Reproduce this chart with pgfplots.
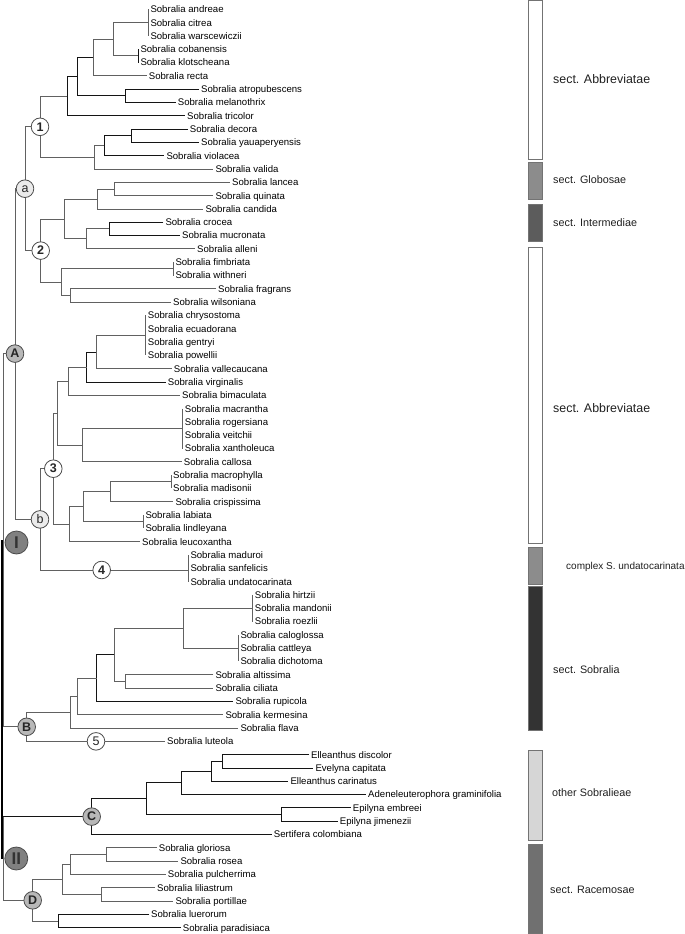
\documentclass[border=0pt]{standalone}
\usepackage{pgfplots}
\pgfplotsset{compat=1.18}
\usepackage{fontspec}
\setmainfont{Liberation Sans}
\newcommand{\lf}{\fontsize{9.6}{11}\selectfont}
\pgfplotsset{
 g/.style={draw=black!62, line width=0.9pt, mark=none},
 k/.style={draw=black!92, line width=0.9pt, mark=none},
 lbl/.style={draw=none, mark=none, nodes near coords, point meta=explicit symbolic,
   nodes near coords style={anchor=base west, font=\lf, inner xsep=2pt, inner ysep=0pt, yshift=-3.4pt, text=black}},
 sec/.style={draw=none, mark=none, nodes near coords, point meta=explicit symbolic,
   nodes near coords style={anchor=base west, font=#1, inner xsep=0pt, inner ysep=0pt, yshift=-3.8pt, text=black!88}},
 bar/.style={draw=black!55, line width=0.8pt, mark=none, fill=#1},
 circ/.style 2 args={only marks, mark=*, mark size=#1, mark options={draw=black!70, line width=0.8pt, fill=#2},
   nodes near coords, point meta=explicit symbolic},
}
\begin{document}
\begin{tikzpicture}
\begin{axis}[name=ax, width=685pt, height=934pt, scale only axis,
  xmin=0, xmax=685, ymin=0, ymax=934, y dir=reverse, hide axis, clip=false]
% ---------- clade 1 ----------
\addplot[g] coordinates {(148.3,9.3) (148.3,35.92)};
\addplot[k] coordinates {(138.3,49.23) (138.3,62.54)};
\addplot[g] coordinates {(148.3,22.6) (113.3,22.6) (113.3,55.9) (138.3,55.9)};
\addplot[g] coordinates {(113.3,39.3) (93.3,39.3) (93.3,75.85) (146.7,75.85)};
\addplot[k] coordinates {(199,89.16) (125,89.16) (125,102.47) (175.7,102.47)};
\addplot[k] coordinates {(93.3,57.6) (77.3,57.6) (77.3,95.8) (125,95.8)};
\addplot[k] coordinates {(77.3,76.7) (67.3,76.7) (67.3,115.78) (185,115.78)};
\addplot[k] coordinates {(187.7,129.09) (131,129.09) (131,142.4) (199,142.4)};
\addplot[k] coordinates {(131,135.7) (104.3,135.7) (104.3,155.71) (164.3,155.71)};
\addplot[g] coordinates {(104.3,145.7) (94.3,145.7) (94.3,169.02) (213.3,169.02)};
\addplot[g] coordinates {(67.3,96.2) (40,96.2) (40,157.4) (94.3,157.4)};
% ---------- clade 2 ----------
\addplot[g] coordinates {(230,182.33) (114.3,182.33) (114.3,195.64) (213.3,195.64)};
\addplot[g] coordinates {(114.3,189.0) (97.7,189.0) (97.7,208.95) (203.3,208.95)};
\addplot[k] coordinates {(163.3,222.26) (109.3,222.26) (109.3,235.57) (180,235.57)};
\addplot[g] coordinates {(109.3,228.9) (86,228.9) (86,248.88) (195,248.88)};
\addplot[g] coordinates {(97.7,199.0) (64,199.0) (64,238.9) (86,238.9)};
\addplot[g] coordinates {(173.3,262.19) (173.3,275.5)};
\addplot[g] coordinates {(216,288.81) (70,288.81) (70,302.12) (171,302.12)};
\addplot[g] coordinates {(173.3,268.8) (61,268.8) (61,295.5) (70,295.5)};
\addplot[g] coordinates {(64,219.0) (40.7,219.0) (40.7,282.2) (61,282.2)};
\addplot[g] coordinates {(40,126.8) (25,126.8) (25,250.6) (40.7,250.6)};
% ---------- node A ----------
\addplot[g] coordinates {(25,188.7) (15,188.7) (15,519.4) (40,519.4)};
% ---------- clade 3 ----------
\addplot[g] coordinates {(145.7,315.43) (145.7,355.36)};
\addplot[g] coordinates {(145.7,335.4) (96,335.4) (96,368.67) (171.7,368.67)};
\addplot[k] coordinates {(96,352.0) (86.7,352.0) (86.7,381.98) (165.7,381.98)};
\addplot[g] coordinates {(86.7,367.0) (68.3,367.0) (68.3,395.29) (180,395.29)};
\addplot[g] coordinates {(182.7,408.6) (182.7,448.53)};
\addplot[g] coordinates {(182.7,428.6) (82.3,428.6) (82.3,461.84) (181.7,461.84)};
\addplot[g] coordinates {(68.3,381.1) (57.7,381.1) (57.7,445.2) (82.3,445.2)};
\addplot[g] coordinates {(171,475.15) (171,488.46)};
\addplot[g] coordinates {(171,481.8) (110,481.8) (110,501.77) (173.3,501.77)};
\addplot[g] coordinates {(143.3,515.08) (143.3,528.39)};
\addplot[g] coordinates {(110,491.8) (83.3,491.8) (83.3,521.7) (143.3,521.7)};
\addplot[g] coordinates {(83.3,506.8) (69,506.8) (69,541.7) (140,541.7)};
\addplot[g] coordinates {(57.7,413.2) (53.3,413.2) (53.3,524.3) (69,524.3)};
\addplot[g] coordinates {(188.3,555.01) (188.3,581.63)};
\addplot[g] coordinates {(53.3,468.7) (40,468.7) (40,570) (188.3,570)};
% ---------- clade B ----------
\addplot[g] coordinates {(252.7,594.94) (252.7,621.56)};
\addplot[g] coordinates {(238.3,634.87) (238.3,661.49)};
\addplot[g] coordinates {(252.7,608.25) (183.3,608.25) (183.3,648.18) (238.3,648.18)};
\addplot[g] coordinates {(213.3,674.8) (125,674.8) (125,688.11) (213.3,688.11)};
\addplot[g] coordinates {(183.3,628.2) (114,628.2) (114,681.5) (125,681.5)};
\addplot[k] coordinates {(114,654.8) (96.7,654.8) (96.7,701.42) (233.3,701.42)};
\addplot[g] coordinates {(96.7,678.1) (77.3,678.1) (77.3,714.73) (223.3,714.73)};
\addplot[g] coordinates {(77.3,696.4) (70.7,696.4) (70.7,728.04) (238.3,728.04)};
\addplot[g] coordinates {(70.7,712.2) (26.7,712.2) (26.7,741.35) (165,741.35)};
\addplot[g] coordinates {(15,353.6) (3.3,353.6) (3.3,726.8) (26.7,726.8)};
% ---------- clade C ----------
\addplot[k] coordinates {(309,754.66) (222.7,754.66) (222.7,767.97) (313.3,767.97)};
\addplot[k] coordinates {(222.7,761.3) (211,761.3) (211,781.28) (288.3,781.28)};
\addplot[k] coordinates {(211,771.3) (181.7,771.3) (181.7,794.59) (366,794.59)};
\addplot[k] coordinates {(350.7,807.9) (281.5,807.9) (281.5,821.21) (337.7,821.21)};
\addplot[k] coordinates {(181.7,782.9) (146.7,782.9) (146.7,814.6) (281.5,814.6)};
\addplot[k] coordinates {(146.7,798.7) (91.7,798.7) (91.7,834.52) (271.7,834.52)};
% ---------- clade D ----------
\addplot[g] coordinates {(156.7,847.83) (106.7,847.83) (106.7,861.14) (178.3,861.14)};
\addplot[g] coordinates {(106.7,854.5) (70,854.5) (70,874.45) (165.7,874.45)};
\addplot[g] coordinates {(155,887.76) (101.7,887.76) (101.7,901.07) (173.3,901.07)};
\addplot[g] coordinates {(70,864.5) (62.7,864.5) (62.7,894.4) (101.7,894.4)};
\addplot[k] coordinates {(149,914.38) (58.3,914.38) (58.3,927.69) (180.7,927.69)};
\addplot[g] coordinates {(62.7,879.5) (32.7,879.5) (32.7,921.0) (58.3,921.0)};
\addplot[k] coordinates {(91.7,816.6) (3.3,816.6)};
\addplot[g] coordinates {(3.3,816.6) (3.3,900.3) (32.7,900.3)};
% ---------- root ----------
\addplot[draw=black, line width=2.2pt, mark=none] coordinates {(1.8,540.2) (1.8,858.5)};
% ---------- circles ----------
\addplot[circ={8.8pt}{white}, nodes near coords style={anchor=center, inner sep=0pt, font=\fontsize{12.5}{12.5}\selectfont\bfseries, text=black!85}]
 coordinates {(40,126.8)[1] (40.7,250.6)[2] (53.3,468.7)[3] (101.7,570)[4]};
\addplot[circ={8.8pt}{white}, nodes near coords style={anchor=center, inner sep=0pt, font=\fontsize{12.5}{12.5}\selectfont, text=black!85}]
 coordinates {(96,741.35)[5]};
\addplot[circ={8.8pt}{black!8}, nodes near coords style={anchor=center, inner sep=0pt, font=\fontsize{12.5}{12.5}\selectfont, text=black!85}]
 coordinates {(25,188.7)[a] (40,519.4)[b]};
\addplot[circ={8.8pt}{black!28}, nodes near coords style={anchor=center, inner sep=0pt, font=\fontsize{12.5}{12.5}\selectfont\bfseries, text=black!85}]
 coordinates {(15,353.6)[A] (26.7,726.8)[B] (91.7,816.6)[C] (32.7,900.3)[D]};
\addplot[circ={11.5pt}{black!50}, nodes near coords style={anchor=center, inner sep=0pt, font=\fontsize{17}{17}\selectfont\bfseries, text=black!80}]
 coordinates {(16.5,542.5)[I] (16.3,858.5)[II]};
% ---------- leaf labels ----------
\addplot[lbl] coordinates {
(148.3,9.3)[Sobralia andreae] (148.3,22.61)[Sobralia citrea] (148.3,35.92)[Sobralia warscewiczii]
(138.3,49.23)[Sobralia cobanensis] (138.3,62.54)[Sobralia klotscheana] (146.7,75.85)[Sobralia recta]
(199,89.16)[Sobralia atropubescens] (175.7,102.47)[Sobralia melanothrix] (185,115.78)[Sobralia tricolor]
(187.7,129.09)[Sobralia decora] (199,142.4)[Sobralia yauaperyensis] (164.3,155.71)[Sobralia violacea]
(213.3,169.02)[Sobralia valida] (230,182.33)[Sobralia lancea] (213.3,195.64)[Sobralia quinata]
(203.3,208.95)[Sobralia candida] (163.3,222.26)[Sobralia crocea] (180,235.57)[Sobralia mucronata]
(195,248.88)[Sobralia alleni] (173.3,262.19)[Sobralia fimbriata] (173.3,275.5)[Sobralia withneri]
(216,288.81)[Sobralia fragrans] (171,302.12)[Sobralia wilsoniana] (145.7,315.43)[Sobralia chrysostoma]
(145.7,328.74)[Sobralia ecuadorana] (145.7,342.05)[Sobralia gentryi] (145.7,355.36)[Sobralia powellii]
(171.7,368.67)[Sobralia vallecaucana] (165.7,381.98)[Sobralia virginalis] (180,395.29)[Sobralia bimaculata]
(182.7,408.6)[Sobralia macrantha] (182.7,421.91)[Sobralia rogersiana] (182.7,435.22)[Sobralia veitchii]
(182.7,448.53)[Sobralia xantholeuca] (181.7,461.84)[Sobralia callosa] (171,475.15)[Sobralia macrophylla]
(171,488.46)[Sobralia madisonii] (173.3,501.77)[Sobralia crispissima] (143.3,515.08)[Sobralia labiata]
(143.3,528.39)[Sobralia lindleyana] (140,541.7)[Sobralia leucoxantha] (188.3,555.01)[Sobralia maduroi]
(188.3,568.32)[Sobralia sanfelicis] (188.3,581.63)[Sobralia undatocarinata] (252.7,594.94)[Sobralia hirtzii]
(252.7,608.25)[Sobralia mandonii] (252.7,621.56)[Sobralia roezlii] (238.3,634.87)[Sobralia caloglossa]
(238.3,648.18)[Sobralia cattleya] (238.3,661.49)[Sobralia dichotoma] (213.3,674.8)[Sobralia altissima]
(213.3,688.11)[Sobralia ciliata] (233.3,701.42)[Sobralia rupicola] (223.3,714.73)[Sobralia kermesina]
(238.3,728.04)[Sobralia flava] (165,741.35)[Sobralia luteola] (309,754.66)[Elleanthus discolor]
(313.3,767.97)[Evelyna capitata] (288.3,781.28)[Elleanthus carinatus] (366,794.59)[Adeneleuterophora graminifolia]
(350.7,807.9)[Epilyna embreei] (337.7,821.21)[Epilyna jimenezii] (271.7,834.52)[Sertifera colombiana]
(156.7,847.83)[Sobralia gloriosa] (178.3,861.14)[Sobralia rosea] (165.7,874.45)[Sobralia pulcherrima]
(155,887.76)[Sobralia liliastrum] (173.3,901.07)[Sobralia portillae] (149,914.38)[Sobralia luerorum]
(180.7,927.69)[Sobralia paradisiaca]
};
% ---------- side bars ----------
\addplot[bar=white] coordinates {(528,0.5) (542,0.5) (542,159.3) (528,159.3)} -- cycle;
\addplot[bar=black!45] coordinates {(528,162.7) (542,162.7) (542,199.3) (528,199.3)} -- cycle;
\addplot[bar=black!64] coordinates {(528,204.3) (542,204.3) (542,241.7) (528,241.7)} -- cycle;
\addplot[bar=white] coordinates {(528,247.7) (542,247.7) (542,543.3) (528,543.3)} -- cycle;
\addplot[bar=black!45] coordinates {(528,547.3) (542,547.3) (542,584) (528,584)} -- cycle;
\addplot[bar=black!80] coordinates {(528,586.7) (542,586.7) (542,730) (528,730)} -- cycle;
\addplot[bar=black!16] coordinates {(528,750) (542,750) (542,840.7) (528,840.7)} -- cycle;
\addplot[bar=black!56] coordinates {(528,844) (542,844) (542,933.5) (528,933.5)} -- cycle;
% ---------- section labels ----------
\addplot[sec={\fontsize{12.4}{13}\selectfont}] coordinates {(553,79.3)[sect. Abbreviatae] (553,409)[sect. Abbreviatae]};
\addplot[sec={\fontsize{10.8}{12}\selectfont}] coordinates {(553,180)[sect. Globosae] (553,222.7)[sect. Intermediae] (553,669.3)[sect. Sobralia] (552,792.3)[other Sobralieae] (550,890)[sect. Racemosae]};
\addplot[sec={\fontsize{10}{11}\selectfont}] coordinates {(566,566)[complex S. undatocarinata]};
\end{axis}
\pgfresetboundingbox
\path (ax.south west) rectangle (ax.north east);
\end{tikzpicture}
\end{document}
